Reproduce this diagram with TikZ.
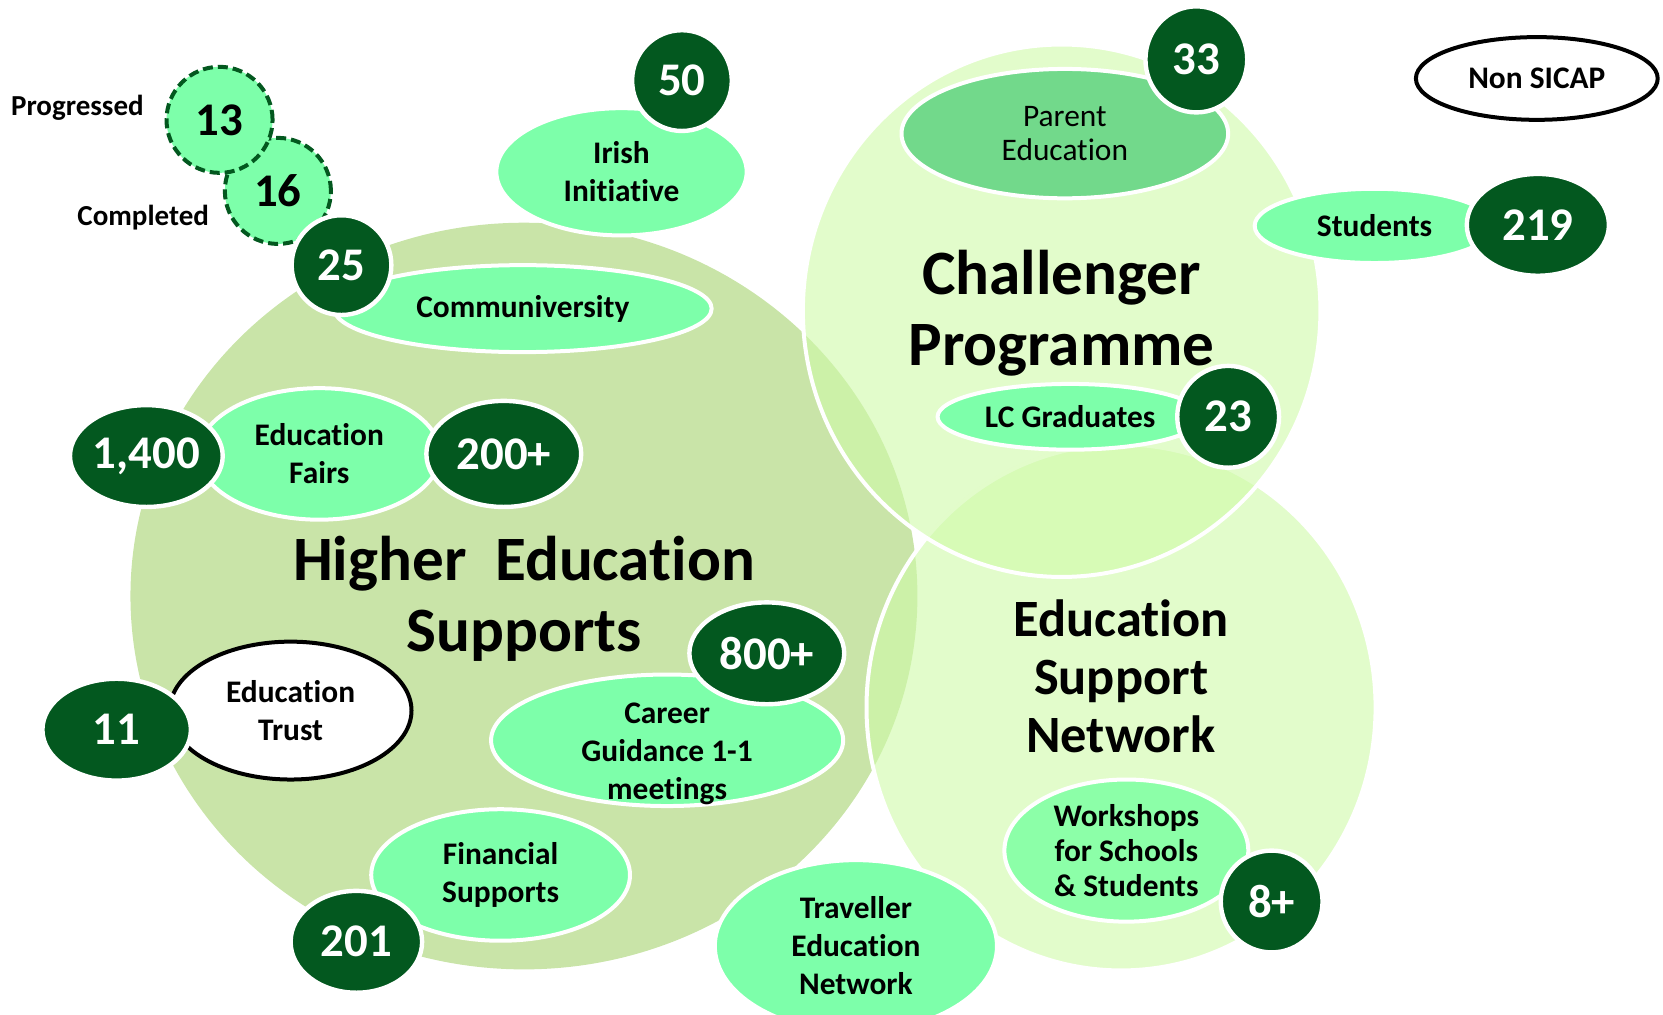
\documentclass[tikz,border=0pt]{standalone}
\usepackage{fontspec}
\setmainfont{Carlito}[Ligatures=NoCommon]
\usepackage{tikz}
\usetikzlibrary{shapes.geometric}
\definecolor{eDark}{HTML}{03581F}
\definecolor{eMint}{HTML}{7DFFAA}
\definecolor{eOlive}{HTML}{C9E4A8}
\definecolor{eLime}{HTML}{CFFAA8}
\definecolor{eParent}{HTML}{72D98B}
\definecolor{eWork}{HTML}{8CFFA8}
\newcommand{\numfont}{\fontsize{23.4}{28}\selectfont\bfseries}
\newcommand{\midfont}{\fontsize{15.7}{19}\selectfont\bfseries}
\tikzset{sz/.style 2 args={minimum width={#1*0.5303pt}, minimum height={#2*0.5303pt}}}
\tikzset{pill/.style={ellipse, draw=white, line width=2pt, fill=eMint, inner sep=0pt,
  align=center, font=\midfont}}
\tikzset{wpill/.style={pill, draw=black, fill=white}}
\tikzset{num/.style={ellipse, draw=white, line width=2.2pt, fill=eDark, text=white,
  inner sep=0pt, font=\numfont}}
\tikzset{dnum/.style={circle, draw=eDark, line width=2pt, dash pattern=on 5pt off 2.5pt,
  fill=eMint, inner sep=0pt, font=\numfont}}
\tikzset{lbl/.style={font=\fontsize{14.5}{17}\selectfont\bfseries}}
\tikzset{title/.style={align=center, font=\fontsize{31.6}{35.5}\selectfont\bfseries}}
\tikzset{big/.style={fill=eLime, fill opacity=0.6, draw=white, line width=2pt}}

\begin{document}
\begin{tikzpicture}[x=0.5303pt, y=-0.5303pt]
  \useasboundingbox (0,0) rectangle (1568,957);
  %% the three big circles
  \fill[eOlive] (494,562) ellipse [x radius=371, y radius=352];
  \path[big] (1057,667) ellipse [x radius=240, y radius=248];
  \path[big] (1001,293) ellipse [x radius=244, y radius=251];
  \node[title] (hes) at (494,565) {Higher\ \ Education\\Supports};
  \node[title] (chal) at (1001,295) {Challenger\\Programme};
  \node[title, font=\fontsize{26.2}{29}\selectfont\bfseries] (esn) at (1057,638)
    {Education\\Support\\Network};
  %% progression
  \node[dnum, sz={100}{100}] (n16) at (262,180) {16};
  \node[dnum, sz={100}{100}] (n13) at (207,113) {13};
  \node[lbl] (prog) at (73,102) {Progressed};
  \node[lbl] (comp) at (135,205) {Completed};
  %%
  \node[pill, sz={356}{82}] (commu) at (493,291) {Communiversity};
  \node[num, sz={94}{94}] (n25) at (322,250) {25};
  \node[pill, sz={236}{120}] (irish) at (586,162) {Irish\\Initiative};
  \node[num, sz={94}{95}] (n50) at (643,76) {50};
  %%
  \node[pill, sz={228}{124}] (fairs) at (301,428) {Education\\Fairs};
  \node[num, sz={144}{96}] (n1400) at (138,430) {1,400};
  \node[num, sz={146}{100}] (n200) at (475,428) {200+};
  %%
  \node[wpill, sz={228}{130}] (trust) at (274,670) {Education\\Trust};
  \node[num, sz={140}{96}] (n11) at (110,688) {11};
  %%
  \node[pill, sz={332}{124}] (career) at (629,698) {};
  \node[align=center, font=\midfont] (careertxt) at (629,711)
    {Career\\Guidance 1-1\\meetings};
  \node[num, sz={146}{96}] (n800) at (723,616) {800+};
  %%
  \node[pill, sz={244}{124}] (finance) at (472,825) {Financial\\Supports};
  \node[num, sz={124}{96}] (n201) at (336,888) {201};
  \node[pill, sz={266}{162}] (travel) at (807,892) {Traveller\\Education\\Network};
  %% challenger
  \node[pill, fill=eParent, sz={308}{122}, font=\fontsize{15.7}{17}\selectfont] (parent)
    at (1004,126) {Parent\\Education};
  \node[num, sz={96}{100}] (n33) at (1128,56) {33};
  \node[pill, sz={250}{62}] (lc) at (1009,393) {LC Graduates};
  \node[num, sz={96}{96}] (n23) at (1158,393) {23};
  %% non sicap
  \node[wpill, sz={228}{78}] (nonsicap) at (1449,74) {Non SICAP};
  \node[pill, sz={226}{70}] (students) at (1296,213) {Students};
  \node[num, sz={134}{96}] (n219) at (1450,212) {219};
  %% support network
  \node[pill, fill=eWork, sz={230}{134}, font=\fontsize{15.7}{17.5}\selectfont\bfseries]
    (work) at (1062,802) {Workshops\\for Schools\\\& Students};
  \node[num, sz={96}{96}] (n8) at (1199,850) {8+};
\end{tikzpicture}
\end{document}
